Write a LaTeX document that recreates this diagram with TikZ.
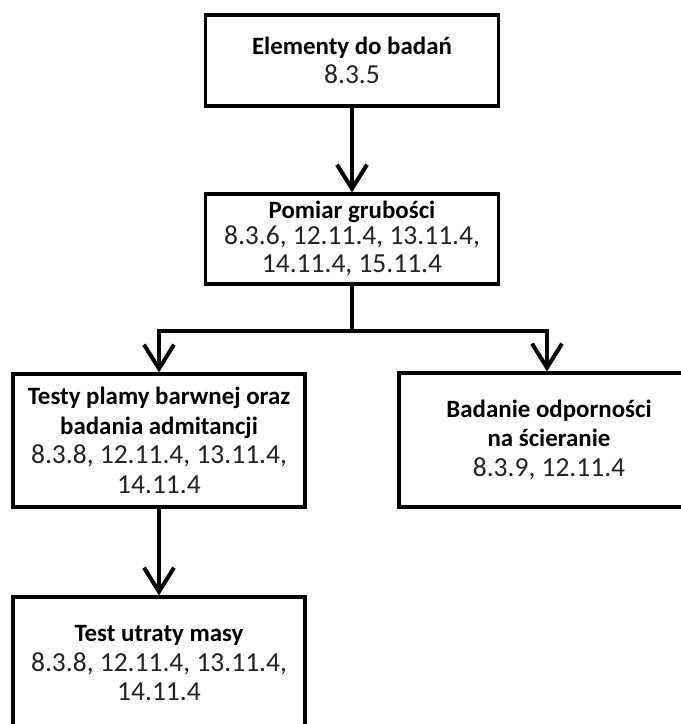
\documentclass[tikz,border=0pt]{standalone}
\usepackage{fontspec}
\setmainfont{Carlito}
\usetikzlibrary{arrows.meta}
\definecolor{numgray}{RGB}{35,35,35}
\begin{document}
\begin{tikzpicture}[x=1pt,y=-1pt,
  box/.style={draw=black, line width=3.2pt, rectangle, align=center, inner sep=0pt,
    font=\fontsize{27.5}{29.5}\selectfont},
  conn/.style={line width=4pt, black},
  arr/.style={conn, -{Straight Barb[length=24pt,width=30pt,line width=4pt]}}]
\useasboundingbox (0,0) rectangle (681,724);
\fill[white] (0,0) rectangle (681,724);
\clip (0,0) rectangle (681,724);
\newcommand\ttl[1]{{\bfseries\fontsize{24.9}{29.5}\selectfont #1}}
\newcommand\nms[1]{{\color{numgray}#1}}
\node[box, minimum width=293pt, minimum height=91pt] (b1) at (352,60.5)
  {\ttl{Elementy do badań}\\ \nms{8.3.5}};
\node[box, minimum width=293pt, minimum height=90pt, font=\fontsize{27.5}{28.5}\selectfont] (b2) at (352,239)
  {\raisebox{-3pt}{\ttl{Pomiar grubości}}\\ \nms{8.3.6, 12.11.4, 13.11.4,}\\ \nms{14.11.4, 15.11.4}};
\node[box, minimum width=292pt, minimum height=133pt] (b3) at (159,440.5)
  {\ttl{Testy plamy barwnej oraz }\\ \ttl{badania admitancji}\\ \nms{8.3.8, 12.11.4, 13.11.4,}\\ \nms{14.11.4}};
\node[box, minimum width=300pt, minimum height=134pt] (b4) at (549,440)
  {\ttl{Badanie odporności}\\ \ttl{na ścieranie}\\ \nms{8.3.9, 12.11.4}};
\node[box, minimum width=292pt, minimum height=133pt] (b5) at (159,663.5)
  {\ttl{Test utraty masy}\\ \nms{8.3.8, 12.11.4, 13.11.4,}\\ \nms{14.11.4}};
\coordinate (j) at (352,331);
\draw[arr] (b1) -- (b2);
\draw[conn] (b2.south) -- (j);
\draw[arr] (j) -| (b3.north);
\draw[arr] (j) -| ([xshift=-2pt]b4.north);
\draw[arr] (b3) -- (b5);
\end{tikzpicture}
\end{document}
